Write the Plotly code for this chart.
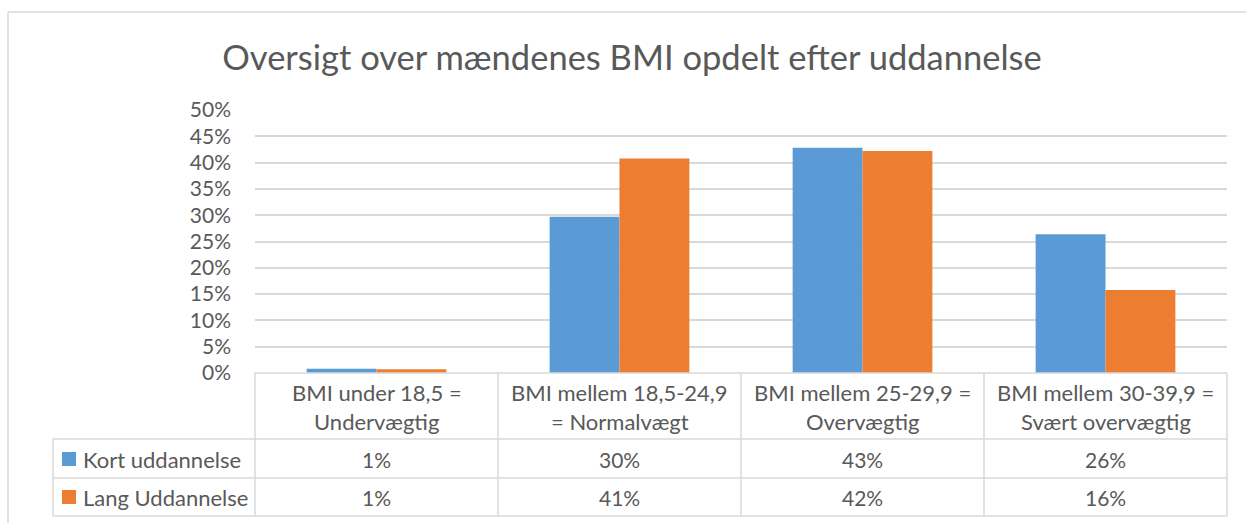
import plotly.graph_objects as go

categories = ["BMI under 18,5 =<br>Undervægtig",
              "BMI mellem 18,5-24,9<br>= Normalvægt",
              "BMI mellem 25-29,9 =<br>Overvægtig",
              "BMI mellem 30-39,9 =<br>Svært overvægtig"]
series_names = ["Kort uddannelse", "Lang Uddannelse"]
kort = [0.8, 29.7, 42.8, 26.4]
lang = [0.7, 40.8, 42.2, 15.8]
y_ticks = [0, 5, 10, 15, 20, 25, 30, 35, 40, 45, 50]
title = "Oversigt over mændenes BMI opdelt efter uddannelse"

colors = ["#5B9BD5", "#ED7D31"]
text_color = "#595959"
grid_color = "#D9D9D9"
FONT = "Lato"
TXT = 22
NUM = 21

W, H = 1246, 523
L, R, T, B = 255, 1227, 110, 373


def px(x):
    return (x - L) / (R - L)


def py(y):
    return (B - y) / (B - T)


fig = go.Figure()
for name, vals, col in zip(series_names, [kort, lang], colors):
    fig.add_trace(go.Bar(x=list(range(len(categories))), y=vals, name=name,
                         marker=dict(color=col, line=dict(width=0)),
                         hoverinfo="skip"))

shapes = []
annotations = []
line = dict(color=grid_color, width=1.5)

# chart frame (left and top visible)
shapes.append(dict(type="line", xref="paper", yref="paper", x0=px(8), x1=px(8), y0=py(12), y1=py(H + 5), line=dict(color=grid_color, width=1.5)))
shapes.append(dict(type="line", xref="paper", yref="paper", x0=px(8), x1=px(W + 5), y0=py(12), y1=py(12), line=dict(color=grid_color, width=1.5)))

# table grid
n = len(categories)
row_y = [B, 439, 478, 516]
for i in range(n + 1):
    xx = i / n
    shapes.append(dict(type="line", xref="paper", yref="paper", x0=xx, x1=xx, y0=py(B), y1=py(516), line=line))
shapes.append(dict(type="line", xref="paper", yref="paper", x0=px(53), x1=px(53), y0=py(439), y1=py(516), line=line))
for yy in row_y[1:]:
    shapes.append(dict(type="line", xref="paper", yref="paper", x0=px(53), x1=1, y0=py(yy), y1=py(yy), line=line))
shapes.append(dict(type="line", xref="paper", yref="paper", x0=0, x1=1, y0=0, y1=0, line=line))

# header text
for i, cat in enumerate(categories):
    l1, l2 = cat.split("<br>")
    for txt, yc in [(l1, 392), (l2, 421)]:
        annotations.append(dict(xref="paper", yref="paper", x=(i + 0.5) / n, y=py(yc),
                                text=txt, showarrow=False, xanchor="center", yanchor="middle",
                                font=dict(family=FONT, size=TXT, color=text_color)))

# value rows
row_centers = [459, 497]
for r, (name, vals, col) in enumerate(zip(series_names, [kort, lang], colors)):
    yc = row_centers[r]
    shapes.append(dict(type="rect", xref="paper", yref="paper", x0=px(62), x1=px(76),
                       y0=py(yc - 7), y1=py(yc + 7), fillcolor=col, line=dict(width=0)))
    annotations.append(dict(xref="paper", yref="paper", x=px(81), y=py(yc), text=name,
                            showarrow=False, xanchor="left", yanchor="middle",
                            font=dict(family=FONT, size=TXT, color=text_color)))
    for i, v in enumerate(vals):
        annotations.append(dict(xref="paper", yref="paper", x=(i + 0.5) / n, y=py(yc),
                                text=f"{round(v):.0f}%", showarrow=False, xanchor="center", yanchor="middle",
                                font=dict(family=FONT, size=NUM, color=text_color)))

fig.update_layout(
    width=W, height=H,
    margin=dict(l=L, r=W - R, t=T, b=H - B, pad=0),
    paper_bgcolor="white", plot_bgcolor="white",
    barmode="group", bargap=0.425, bargroupgap=0,
    showlegend=False,
    title=dict(text=title, x=632 / W, xanchor="center", y=1 - 58 / H, yanchor="middle",
               font=dict(family=FONT, size=34.5, color=text_color)),
    xaxis=dict(range=[-0.5, n - 0.5], showticklabels=False, showgrid=False, zeroline=False,
               showline=False, ticks=""),
    yaxis=dict(range=[0, 50], tickvals=y_ticks, ticktext=[f"{t}%" for t in y_ticks],
               showgrid=True, gridcolor=grid_color, gridwidth=1.5, zeroline=False,
               showline=False, ticks="", ticklabelstandoff=23,
               tickfont=dict(family=FONT, size=NUM, color=text_color)),
    shapes=shapes, annotations=annotations,
    font=dict(family=FONT, color=text_color),
)

fig.write_html("out.html", config={"displayModeBar": False},
               post_script="document.body.style.margin='0';document.body.style.overflow='hidden';")
